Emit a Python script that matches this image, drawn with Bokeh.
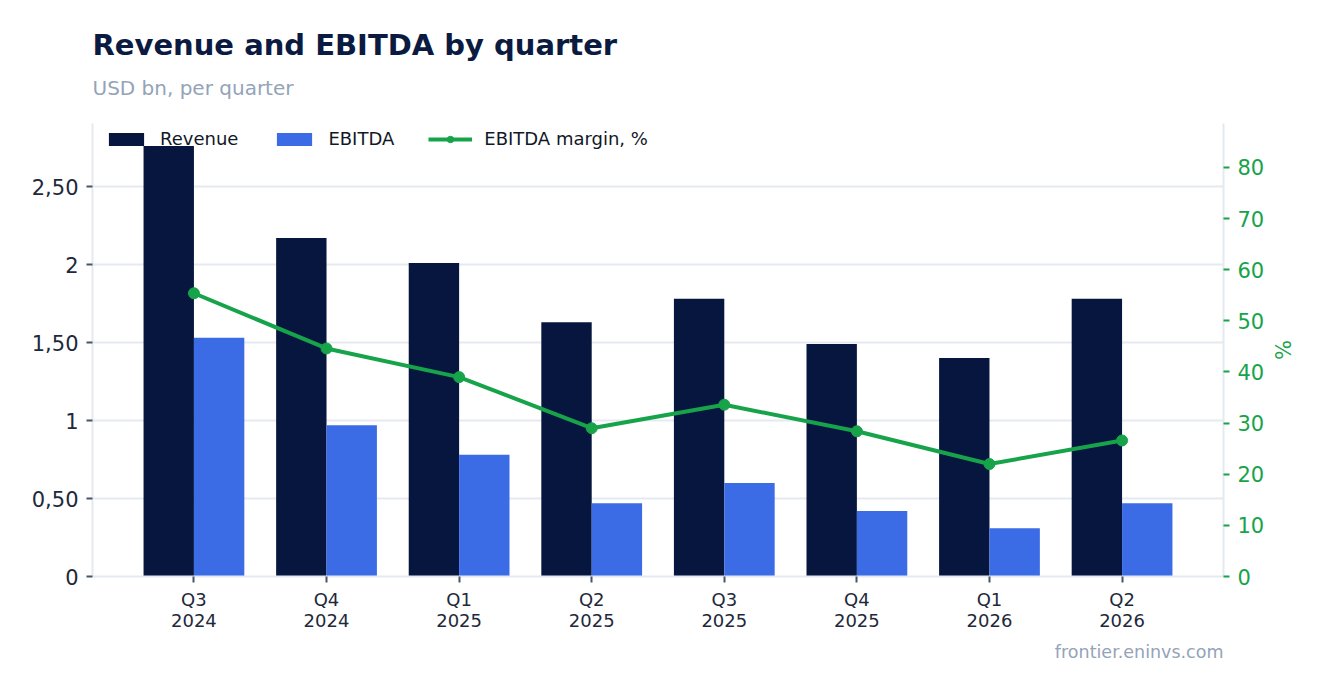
from bokeh.plotting import figure
from bokeh.models import (FactorRange, Range1d, LinearAxis, FixedTicker, Title,
                          ColumnDataSource, Legend, LegendItem)
from bokeh.transform import dodge
from bokeh.embed import file_html
from bokeh.resources import INLINE

quarters = ["Q3\n2024", "Q4\n2024", "Q1\n2025", "Q2\n2025",
            "Q3\n2025", "Q4\n2025", "Q1\n2026", "Q2\n2026"]
revenue = [2.76, 2.17, 2.01, 1.63, 1.78, 1.49, 1.40, 1.78]
ebitda = [1.53, 0.97, 0.78, 0.47, 0.60, 0.42, 0.31, 0.47]
margin = [55.4, 44.6, 39.0, 29.0, 33.6, 28.4, 22.0, 26.6]
left_ticks = [0, 0.5, 1, 1.5, 2, 2.5]
left_tick_labels = ["0", "0,50", "1", "1,50", "2", "2,50"]
right_ticks = [0, 10, 20, 30, 40, 50, 60, 70, 80]

NAVY = "#06163e"
BLUE = "#3b6ce6"
GREEN = "#16a34a"
GRID = "#e5e9f0"
MUTED = "#94a3b8"
TEXT = "#1e293b"
FONT = "DejaVu Sans"

W, H = 1305, 680
FL, FR, FT, FB = 92, 1223, 123, 576   # frame edges on the page
src = ColumnDataSource(dict(q=quarters, revenue=revenue, ebitda=ebitda, margin=margin))

p = figure(width=W, height=H,
           x_range=FactorRange(factors=quarters, range_padding=0.265, range_padding_units="absolute"),
           y_range=Range1d(0, 2.904),
           output_backend="svg", toolbar_location=None, title=None,
           min_border_left=FL, min_border_right=W - FR, min_border_top=FT,
           min_border_bottom=H - FB)
p.extra_y_ranges = {"pct": Range1d(0, 88.6)}
p.outline_line_color = None
p.background_fill_color = "white"
p.border_fill_color = "white"

r1 = p.vbar(x=dodge("q", -0.19, range=p.x_range), top="revenue", width=0.38, source=src,
            fill_color=NAVY, line_color=None)
r2 = p.vbar(x=dodge("q", 0.19, range=p.x_range), top="ebitda", width=0.38, source=src,
            fill_color=BLUE, line_color=None)
r3 = p.line(x="q", y="margin", source=src, y_range_name="pct", line_color=GREEN, line_width=4)
r4 = p.scatter(x="q", y="margin", source=src, y_range_name="pct", size=11,
               fill_color=GREEN, line_color=GREEN)

# left axis
ya = p.yaxis[0]
ya.ticker = FixedTicker(ticks=left_ticks)
ya.major_label_overrides = {t: l for t, l in zip(left_ticks, left_tick_labels)}
ya.major_label_text_font = FONT
ya.major_label_text_font_size = "21px"
ya.major_label_text_color = TEXT
ya.axis_line_color = GRID
ya.axis_line_width = 2
ya.major_tick_line_color = "#475569"
ya.major_tick_line_width = 2
ya.major_tick_out = 6
ya.major_tick_in = 0
ya.minor_tick_line_color = None
ya.major_label_standoff = 8

# x axis
xa = p.xaxis[0]
xa.major_label_text_font = FONT
xa.major_label_text_font_size = "18px"
xa.major_label_text_color = TEXT
xa.major_label_text_line_height = 1.0
xa.axis_line_color = GRID
xa.axis_line_width = 2
xa.major_tick_line_color = "#475569"
xa.major_tick_line_width = 2
xa.major_tick_out = 6
xa.major_tick_in = 0
xa.major_label_standoff = 6

# right axis
ra = LinearAxis(y_range_name="pct", ticker=FixedTicker(ticks=right_ticks), axis_label="%")
ra.major_label_text_font = FONT
ra.major_label_text_font_size = "21px"
ra.major_label_text_color = GREEN
ra.axis_label_text_font = FONT
ra.axis_label_text_font_size = "21px"
ra.axis_label_text_color = GREEN
ra.axis_label_text_font_style = "normal"
ra.axis_label_standoff = 3
ra.axis_line_color = GRID
ra.axis_line_width = 2
ra.major_tick_line_color = GREEN
ra.major_tick_line_width = 2
ra.major_tick_out = 6
ra.major_tick_in = 0
ra.minor_tick_line_color = None
ra.major_label_standoff = 8
p.add_layout(ra, "right")

p.xgrid.grid_line_color = None
p.ygrid.grid_line_color = GRID
p.ygrid.grid_line_width = 2

legend = Legend(items=[LegendItem(label="Revenue", renderers=[r1]),
                       LegendItem(label="EBITDA", renderers=[r2]),
                       LegendItem(label="EBITDA margin, %", renderers=[r3, r4])],
                location=(12, 427), orientation="horizontal",
                background_fill_alpha=0, border_line_color=None,
                label_text_font=FONT, label_text_font_size="18px", label_text_color="#111827",
                glyph_width=44, glyph_height=16, label_standoff=12, spacing=34,
                margin=0, padding=6)
p.add_layout(legend)

# heading: spacer (nearest the plot), subtitle, then title on top
p.add_layout(Title(text=" ", text_font_size="1px", standoff=11), "above")
p.add_layout(Title(text="USD bn, per quarter", text_font=FONT, text_font_size="20px",
                   text_font_style="normal", text_color=MUTED, align="left", standoff=20), "above")
p.add_layout(Title(text="Revenue and EBITDA by quarter", text_font=FONT, text_font_size="29px",
                   text_font_style="bold", text_color="#0b1a40", align="left", standoff=4), "above")
p.add_layout(Title(text="frontier.eninvs.com", text_font=FONT, text_font_size="17.5px",
                   text_font_style="normal", text_color=MUTED, align="right", standoff=13), "below")

open("out.html", "w").write(file_html(p, INLINE))
